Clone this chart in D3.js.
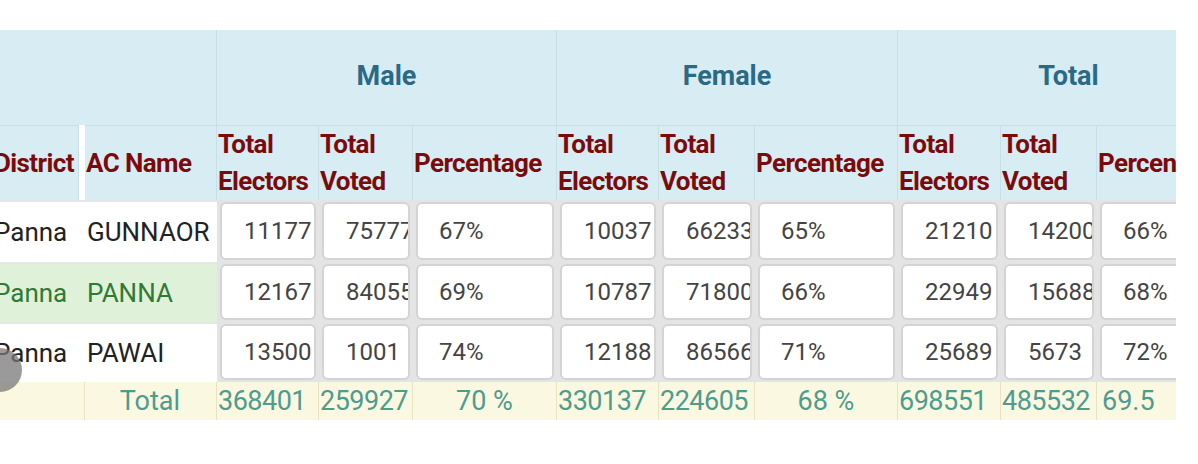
<!DOCTYPE html><html><head><meta charset="utf-8">
<script src="https://cdn.jsdelivr.net/npm/d3@7"></script>
<style>
body{margin:0;width:1198px;height:464px;overflow:hidden;background:#fff;font-family:Roboto,sans-serif;position:relative}
.c{position:absolute;box-sizing:border-box;overflow:hidden;display:flex;align-items:center}
.box{position:absolute;background:#fff;border:2px solid #d4d4d4;border-radius:6px;box-sizing:border-box;overflow:hidden;display:flex;align-items:center;white-space:nowrap}
</style></head><body>
<div id="t"></div>
<script>
const groups=["Male","Female","Total"];
const subHeaders=["Total\nElectors","Total\nVoted","Percentage"];
const districts=["Panna","Panna","Panna"];
const acNames=["GUNNAOR","PANNA","PAWAI"];
const maleElectors=["11177","12167","13500"];
const maleVoted=["75777","84055","1001"];
const malePct=["67%","69%","74%"];
const femaleElectors=["10037","10787","12188"];
const femaleVoted=["66233","71800","86566"];
const femalePct=["65%","66%","71%"];
const totalElectors=["21210","22949","25689"];
const totalVoted=["14200","15688","5673"];
const totalPct=["66%","68%","72%"];
const totals=["Total","368401","259927","70 %","330137","224605","68 %","698551","485532","69.5"];

const edges=[0,85,217,319,413,557,659,755,898,1001,1097,1240];
const colX=d3.scaleOrdinal().domain(d3.range(11)).range(edges.slice(0,11));
const colW=i=>edges[i+1]-edges[i];
const rowY=d3.scaleOrdinal().domain(["g","h",0,1,2,"t"]).range([30,125,200,262,322,382]);
const rowH={g:95,h:75,0:62,1:60,2:60,t:38};
const root=d3.select("#t");
function cell(i,r,text,st){
  const d=root.append("div").attr("class","c").style("left",colX(i)+"px").style("top",rowY(r)+"px")
   .style("width",colW(i)+"px").style("height",rowH[r]+"px");
  for(const k in st) d.style(k,st[k]);
  d.text(text);return d;
}
const hb="#d8ecf4", line="1px solid #c9dfe8";
cell(0,"g","",{background:hb,width:"217px","border-right":line});
groups.forEach((g,k)=>{
  const i=2+k*3, w=edges[i+3]-edges[i];
  cell(i,"g",g,{width:w+"px",background:hb,"justify-content":"center","font-weight":"700","font-size":"27px",color:"#2a6a86","border-right":line,"padding-bottom":"4px"});
});
const hs={background:hb,"font-weight":"700","font-size":"26px",color:"#7b0b0b","border-right":line,"border-top":line,"white-space":"pre","line-height":"37px","letter-spacing":"-0.6px","overflow":"visible"};
cell(0,"h","District",Object.assign({},hs,{"margin-left":"-6px","padding-left":"0"}));
cell(1,"h","AC Name",Object.assign({},hs,{"padding-left":"1px"}));
for(let k=0;k<9;k++) cell(2+k,"h",subHeaders[k%3],Object.assign({},hs,{"padding-left":"1px",overflow:k===8?"hidden":"visible"}));
const cols=[maleElectors,maleVoted,malePct,femaleElectors,femaleVoted,femalePct,totalElectors,totalVoted,totalPct];
[0,1,2].forEach(r=>{
  const hl=r===1;
  const s={"font-size":"26px",color:hl?"#2f7a34":"#222",background:hl?"#dff1d8":"#fff","border-top":"2px solid #e6e6e6","white-space":"nowrap",overflow:"visible"};
  cell(0,r,districts[r],Object.assign({},s,{"padding-left":"0","margin-left":"-6px",width:"91px"}));
  cell(1,r,acNames[r],Object.assign({},s,{"padding-left":"2px"}));
  cols.forEach((arr,k)=>{
    const i=2+k;
    const bg=cell(i,r,"",{background:"#e4e4e4"});
    const pct=k%3===2;
    bg.append("div").attr("class","box").style("left","3px").style("top","2px")
      .style("width",(colW(i)-6)+"px").style("height",(rowH[r]-4)+"px")
      .style("font-size","24px").style("color","#444")
      .style("padding-left",pct?"21px":"22px").text(arr[r]);
  });
});
const ts={background:"#fbf8e2","font-size":"27px",color:"#4e9c8e","border-right":"1px solid #e8e2c0","white-space":"nowrap","justify-content":"center",overflow:"visible"};
cell(0,"t","",ts);
totals.forEach((v,k)=>{
  let extra={};
  if(k===0) extra={"justify-content":"flex-end","padding-right":"36px"};
  else if(k===9) extra={"justify-content":"flex-start","padding-left":"5px"};
  else if(k%3!==0) extra={"justify-content":"flex-start","padding-left":"1px","letter-spacing":"-0.5px"};
  cell(1+k,"t",v,Object.assign({},ts,extra));
});
root.append("div").style("position","absolute").style("left","1176px").style("top","0").style("width","30px").style("height","464px").style("background","#fff");
root.append("div").style("position","absolute").style("left","-22px").style("top","348px").style("width","44px").style("height","44px").style("border-radius","50%").style("background","rgba(120,120,120,0.75)");
</script></body></html>
